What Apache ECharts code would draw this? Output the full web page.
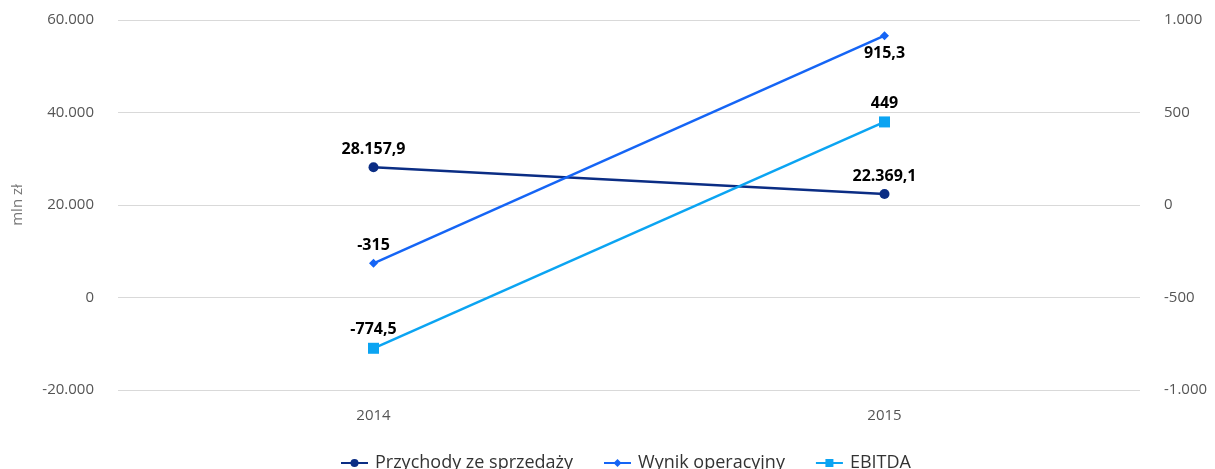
<!DOCTYPE html>
<html><head><meta charset="utf-8">
<script src="https://cdn.jsdelivr.net/npm/echarts@6/dist/echarts.min.js"></script>
<style>html,body{margin:0;padding:0;background:#fff}#c{width:1215px;height:469px}</style>
</head><body><div id="c"></div>
<script>
const categories = ['2014', '2015'];
const przychody = [28157.9, 22369.1];
const wynik = [-315, 915.3];
const ebitda = [-774.5, 449];
const leftTicks = { min: -20000, max: 60000, interval: 20000 };
const rightTicks = { min: -1000, max: 1000, interval: 500 };

function fmt(v) {
  const neg = v < 0; v = Math.abs(v);
  let s = (Math.round(v * 10) / 10).toString();
  let [i, d] = s.split('.');
  i = i.replace(/\B(?=(\d{3})+(?!\d))/g, '.');
  return (neg ? '-' : '') + i + (d ? ',' + d : '');
}
const font = '"Open Sans", "Noto Sans", sans-serif';
const lbl = { show: true, fontFamily: font, fontWeight: 'bold', fontSize: 16, color: '#000', distance: 5, formatter: p => fmt(p.value) };

const chart = echarts.init(document.getElementById('c'));
chart.setOption({
  animation: false,
  textStyle: { fontFamily: font },
  grid: { left: 118, right: 75, top: 20, bottom: 79 },
  legend: {
    bottom: -8, left: 335, itemGap: 30, itemWidth: 27, itemHeight: 10,
    textStyle: { fontSize: 18, color: '#333', fontFamily: font, padding: [0, 0, 0, 2] },
    data: ['Przychody ze sprzedaży', 'Wynik operacyjny', 'EBITDA']
  },
  xAxis: {
    type: 'category', data: categories, boundaryGap: true,
    axisLine: { show: false }, axisTick: { show: false },
    axisLabel: { color: '#555', fontSize: 15, margin: 18 }
  },
  yAxis: [
    {
      type: 'value', ...leftTicks, name: 'mln zł', nameLocation: 'middle', nameGap: 93,
      nameTextStyle: { color: '#777', fontSize: 15 },
      axisLine: { show: false }, axisTick: { show: false },
      axisLabel: { color: '#555', fontSize: 15, margin: 24, formatter: v => fmt(v) },
      splitLine: { lineStyle: { color: '#d9d9d9', width: 1 } }
    },
    {
      type: 'value', ...rightTicks, position: 'right',
      axisLine: { show: false }, axisTick: { show: false },
      axisLabel: { color: '#555', fontSize: 15, margin: 24, formatter: v => fmt(v) },
      splitLine: { show: false }
    }
  ],
  series: [
    {
      name: 'Przychody ze sprzedaży', type: 'line', yAxisIndex: 0, data: przychody,
      symbol: 'circle', symbolSize: 10, color: '#0b2d84', lineStyle: { width: 2.5 },
      label: { ...lbl, position: 'top' }
    },
    {
      name: 'Wynik operacyjny', type: 'line', yAxisIndex: 1,
      data: [
        { value: wynik[0], label: { position: 'top' } },
        { value: wynik[1], label: { position: 'bottom' } }
      ],
      symbol: 'diamond', symbolSize: 9, color: '#1565f5', lineStyle: { width: 2.5 },
      label: { ...lbl }
    },
    {
      name: 'EBITDA', type: 'line', yAxisIndex: 1, data: ebitda,
      symbol: 'rect', symbolSize: 11, color: '#0ba4f2', lineStyle: { width: 2.5 },
      label: { ...lbl, position: 'top' }
    }
  ]
});
</script></body></html>
